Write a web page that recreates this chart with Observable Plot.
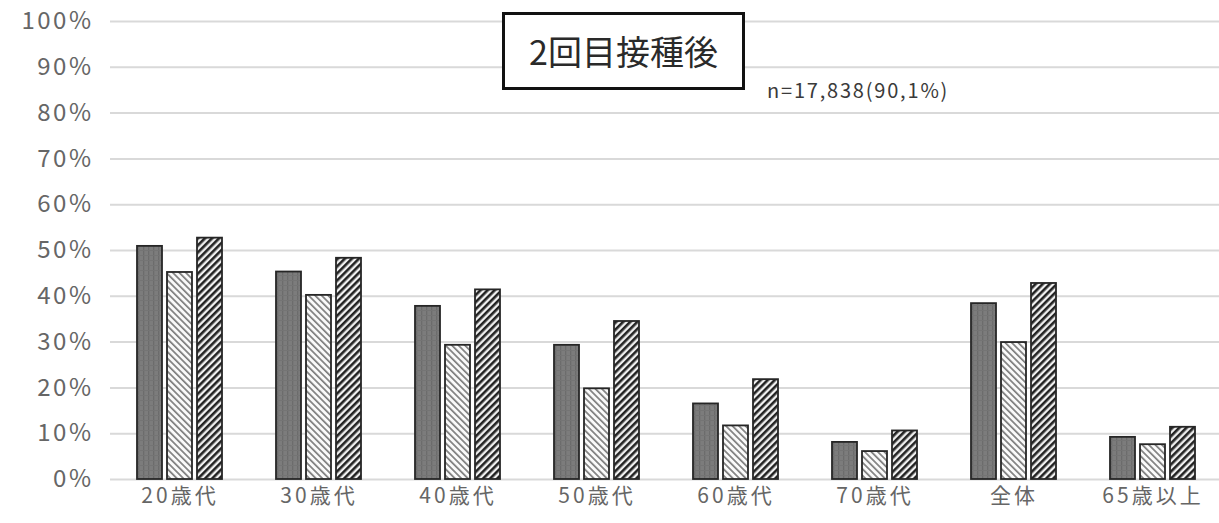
<!DOCTYPE html>
<html><head><meta charset="utf-8">
<script src="https://cdn.jsdelivr.net/npm/d3@7"></script>
<script src="https://cdn.jsdelivr.net/npm/@observablehq/plot@0.6"></script>
<style>
body{margin:0;background:#fff;font-family:"Noto Sans CJK JP","Noto Sans",sans-serif}
#wrap{position:relative;width:1219px;height:523px;overflow:hidden}
#title{position:absolute;left:502px;top:12px;width:243px;height:78px;box-sizing:border-box;border:3px solid #111;background:#fff;font-size:34px;display:flex;align-items:center;justify-content:center;color:#2a2a2a;padding-bottom:2px}
#n{position:absolute;left:767px;top:75px;font-size:20px;letter-spacing:1.8px;color:#3a3a3a}
svg [aria-label="y-axis tick label"]{font-size:24px;letter-spacing:2.5px;fill:#666}
svg [aria-label="fx-axis tick label"]{font-size:21px;letter-spacing:3px;fill:#666}
</style></head><body>
<div id="wrap"></div>
<script>
const categories = ["20歳代","30歳代","40歳代","50歳代","60歳代","70歳代","全体","65歳以上"];
const seriesNames = ["系列1","系列2","系列3"];
const series1 = [50.9, 45.3, 37.8, 29.3, 16.5, 8.1, 38.4, 9.2];
const series2 = [45.2, 40.2, 29.3, 19.8, 11.7, 6.1, 29.9, 7.6];
const series3 = [52.7, 48.3, 41.4, 34.5, 21.8, 10.6, 42.8, 11.4];
const yTicks = [0,10,20,30,40,50,60,70,80,90,100];
const titleText = "2回目接種後";
const noteText = "n=17,838(90,1%)";

const values = [series1, series2, series3];
const fills = ["url(#pDark)","url(#pLight)","url(#pHatch)"];
const data = categories.flatMap((c,i)=>seriesNames.map((s,j)=>({category:c, series:s, value:values[j][i]})));

const chart = Plot.plot({
  width:1219, height:523,
  marginTop:21, marginBottom:44, marginLeft:107, marginRight:-5,
  style:{fontFamily:'"Noto Sans CJK JP","Noto Sans",sans-serif', fontSize:"21px", color:"#666", background:"#fff", overflow:"visible"},
  fx:{domain:categories, padding:0, label:null, tickSize:0, tickPadding:9, axis:"bottom"},
  x:{domain:seriesNames, axis:null, paddingInner:0.17, paddingOuter:0.83},
  y:{domain:[0,100], ticks:yTicks, tickFormat:d=>d+"%", tickSize:0, tickPadding:17, label:null},
  marks:[
    Plot.gridY(yTicks,{stroke:"#d9d9d9", strokeWidth:2, strokeOpacity:1}),
    ...seriesNames.map((s,j)=>Plot.barY(data.filter(d=>d.series===s),{
      fx:"category", x:"series", y:"value", fill:fills[j], stroke:"#262626", strokeWidth:1.8
    }))
  ]
});

const ns = "http://www.w3.org/2000/svg";
const defs = document.createElementNS(ns,"defs");
defs.innerHTML = `
<pattern id="pDark" patternUnits="userSpaceOnUse" width="5" height="5">
  <rect width="5" height="5" fill="#7c7c7c"/>
  <rect x="0" y="0" width="1.3" height="5" fill="#6c6c6c"/>
  <rect x="0" y="0" width="5" height="1" fill="#747474"/>
</pattern>
<pattern id="pLight" patternUnits="userSpaceOnUse" width="4.6" height="4.6" patternTransform="rotate(-45)">
  <rect width="4.6" height="4.6" fill="#fafafa"/>
  <rect x="0" y="0" width="1.7" height="4.6" fill="#7e7e7e"/>
</pattern>
<pattern id="pHatch" patternUnits="userSpaceOnUse" width="5" height="5" patternTransform="rotate(45)">
  <rect width="5" height="5" fill="#f0f0f0"/>
  <rect x="0" y="0" width="2.6" height="5" fill="#222"/>
</pattern>`;
chart.insertBefore(defs, chart.firstChild);

const wrap = document.getElementById("wrap");
wrap.appendChild(chart);
const t = document.createElement("div"); t.id="title"; t.textContent=titleText; wrap.appendChild(t);
const n = document.createElement("div"); n.id="n"; n.textContent=noteText; wrap.appendChild(n);
</script>
</body></html>
